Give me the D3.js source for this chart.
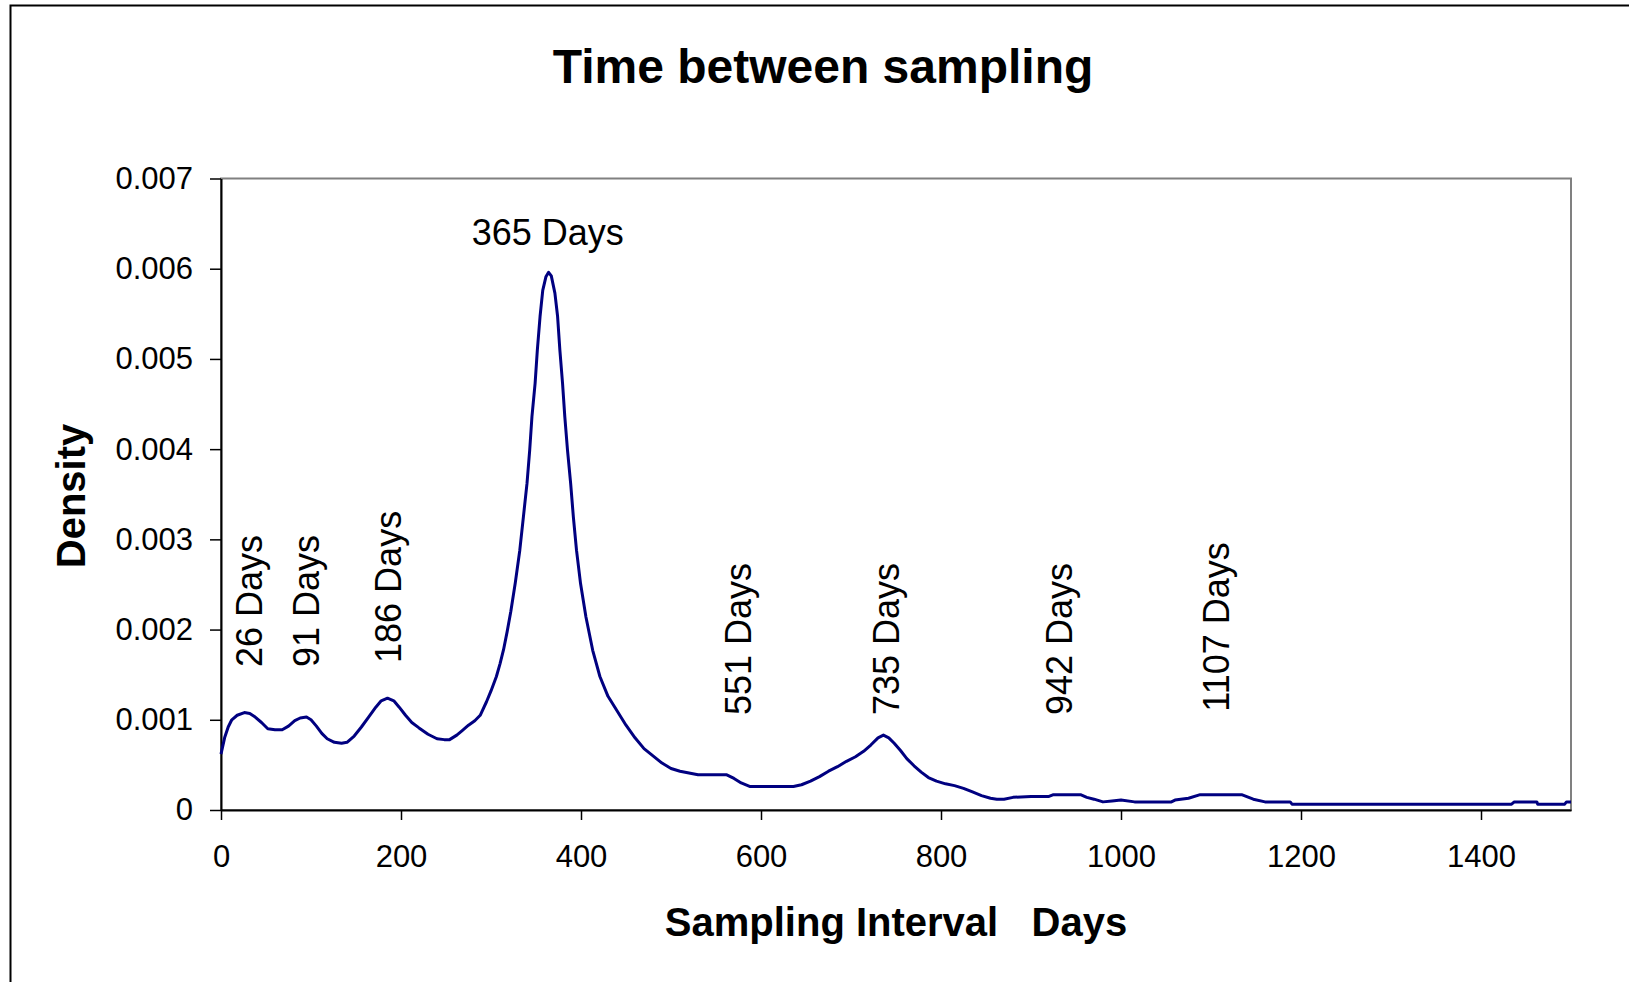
<!DOCTYPE html>
<html>
<head>
<meta charset="utf-8">
<script src="https://cdn.jsdelivr.net/npm/d3@7"></script>
<style>
  html, body { margin: 0; padding: 0; background: #fff; }
  svg { display: block; }
  text { font-family: "Liberation Sans", Arial, Helvetica, sans-serif; fill: #000; }
</style>
</head>
<body>
<svg id="chart" width="1629" height="982"></svg>
<script>
// ---- data ----
const days = [0,4,8,12,18,26,32,38,45,52,60,68,75,82,88,95,100,106,112,118,126,134,140,148,156,164,172,178,185,192,198,205,212,220,230,240,248,254,262,268,275,282,288,295,300,306,310,314,318,322,327,332,336,340,343,345.5,349,351.5,354.5,357.5,361,364,367,371,374,376.5,379.5,382,385,388.5,391.5,395,399.5,405.5,413,421,430,440,450,460,470,480,490,500,510,520,530,545,562,570,578,588,600,620,636,645,655,665,675,685,695,705,714,722,730,736,742,748,755,762,770,778,786,795,805,815,825,835,845,855,862,870,880,900,920,925,955,962,970,980,990,1000,1015,1056,1060,1075,1088,1134,1147,1160,1188,1190,1434,1437,1462,1463,1493,1495,1500];
const density = [0.00062,0.00080,0.00092,0.00100,0.00105,0.00108,0.00107,0.00103,0.00097,0.00090,0.00089,0.00089,0.00093,0.00099,0.00102,0.00103,0.00100,0.00093,0.00085,0.00079,0.00075,0.00074,0.00075,0.00082,0.00092,0.00103,0.00114,0.00121,0.00124,0.00121,0.00114,0.00105,0.00097,0.00091,0.00084,0.00079,0.00078,0.00078,0.00083,0.00088,0.00094,0.00099,0.00105,0.00120,0.00132,0.00148,0.00162,0.00178,0.00198,0.00220,0.00252,0.00288,0.00325,0.00362,0.00399,0.00436,0.00473,0.00510,0.00547,0.00576,0.00591,0.00596,0.00592,0.00573,0.00547,0.00510,0.00473,0.00436,0.00399,0.00362,0.00325,0.00288,0.00251,0.00214,0.00177,0.00148,0.00126,0.00110,0.00094,0.00080,0.00068,0.00060,0.00052,0.00046,0.00043,0.00041,0.00039,0.00039,0.00039,0.00035,0.00030,0.00026,0.00026,0.00026,0.00026,0.00028,0.00032,0.00037,0.00043,0.00048,0.00054,0.00059,0.00065,0.00072,0.00080,0.00083,0.00080,0.00074,0.00066,0.00057,0.00049,0.00042,0.00036,0.00032,0.00029,0.00027,0.00024,0.00020,0.00016,0.00013,0.00012,0.00012,0.00014,0.00015,0.00015,0.00017,0.00017,0.00014,0.00012,0.00009,0.00010,0.00011,0.00009,0.00009,0.00011,0.00013,0.00017,0.00017,0.00012,0.00009,0.00009,0.000065,0.000065,0.00009,0.00009,0.000065,0.000065,0.00009,0.00009];

const xTicks = [0,200,400,600,800,1000,1200,1400];
const yTicks = [0,0.001,0.002,0.003,0.004,0.005,0.006,0.007];
const yTickLabels = ["0","0.001","0.002","0.003","0.004","0.005","0.006","0.007"];

const annoLabels = ["26 Days","91 Days","186 Days","551 Days","735 Days","942 Days","1107 Days"];
const annoX = [31,94.5,185.5,574.5,739.5,931,1106.5];
const annoY = [0.001585,0.001585,0.00163,0.001053,0.001053,0.001053,0.00109];
const peakLabel = "365 Days";
const peakLabelX = 363;
const peakLabelY = 0.006264;

const titleText = "Time between sampling";
const xTitle = "Sampling Interval\u00A0\u00A0\u00A0Days";
const yTitle = "Density";

// ---- drawing ----
const svg = d3.select("#chart");
const pLeft = 221, pRight = 1571, pTop = 178.5, pBottom = 810;
const x = d3.scaleLinear().domain([0,1500]).range([pLeft,pRight]);
const y = d3.scaleLinear().domain([0,0.007]).range([pBottom,pTop]);

svg.append("rect").attr("width",1629).attr("height",982).attr("fill","#fff");

// outer chart frame
svg.append("rect")
  .attr("x",10.5).attr("y",5.5).attr("width",1700).attr("height",1100)
  .attr("fill","none").attr("stroke","#000").attr("stroke-width",2);

// title
svg.append("text").attr("x",823).attr("y",83)
  .attr("text-anchor","middle").attr("font-size",48).attr("font-weight","bold")
  .text(titleText);

// plot area border
svg.append("rect")
  .attr("x",pLeft).attr("y",pTop).attr("width",pRight-pLeft).attr("height",pBottom-pTop)
  .attr("fill","none").attr("stroke","#808080").attr("stroke-width",2);

// y axis
const yAxis = svg.append("g").attr("transform",`translate(${pLeft},0)`)
  .call(d3.axisLeft(y).tickValues(yTicks).tickSize(11).tickSizeOuter(0).tickPadding(17)
    .tickFormat((d,i)=>yTickLabels[i]));
yAxis.select(".domain").attr("stroke","#000").attr("stroke-width",2);
yAxis.selectAll(".tick line").attr("stroke","#000").attr("stroke-width",1.5);
yAxis.selectAll(".tick text").attr("font-size",31).attr("font-family",'"Liberation Sans", Arial, sans-serif').attr("fill","#000");

// x axis
const xAxis = svg.append("g").attr("transform",`translate(0,${pBottom})`)
  .call(d3.axisBottom(x).tickValues(xTicks).tickSize(10).tickSizeOuter(0).tickPadding(25).tickFormat(d3.format("d")));
xAxis.select(".domain").attr("stroke","#000").attr("stroke-width",2);
xAxis.selectAll(".tick line").attr("stroke","#000").attr("stroke-width",1.5);
xAxis.selectAll(".tick text").attr("font-size",31).attr("font-family",'"Liberation Sans", Arial, sans-serif').attr("fill","#000");

// axis titles
svg.append("text").attr("x",896).attr("y",936)
  .attr("text-anchor","middle").attr("font-size",40).attr("font-weight","bold")
  .text(xTitle);
svg.append("text").attr("transform","translate(85,496) rotate(-90)")
  .attr("text-anchor","middle").attr("font-size",40).attr("font-weight","bold")
  .text(yTitle);

// density curve
const pts = days.map((d,i)=>[d,density[i]]);
const line = d3.line().x(d=>x(d[0])).y(d=>y(d[1])).curve(d3.curveLinear);
svg.append("path").datum(pts)
  .attr("d",line)
  .attr("fill","none").attr("stroke","#000080").attr("stroke-width",3)
  .attr("stroke-linejoin","round");

// annotations
svg.append("text").attr("x",x(peakLabelX)).attr("y",y(peakLabelY))
  .attr("text-anchor","middle").attr("font-size",36).text(peakLabel);

svg.selectAll(".anno").data(annoLabels).enter().append("text")
  .attr("class","anno")
  .attr("transform",(d,i)=>`translate(${x(annoX[i])},${y(annoY[i])}) rotate(-90)`)
  .attr("dy","0.35em").attr("text-anchor","start").attr("font-size",36)
  .text(d=>d);
</script>
</body>
</html>
